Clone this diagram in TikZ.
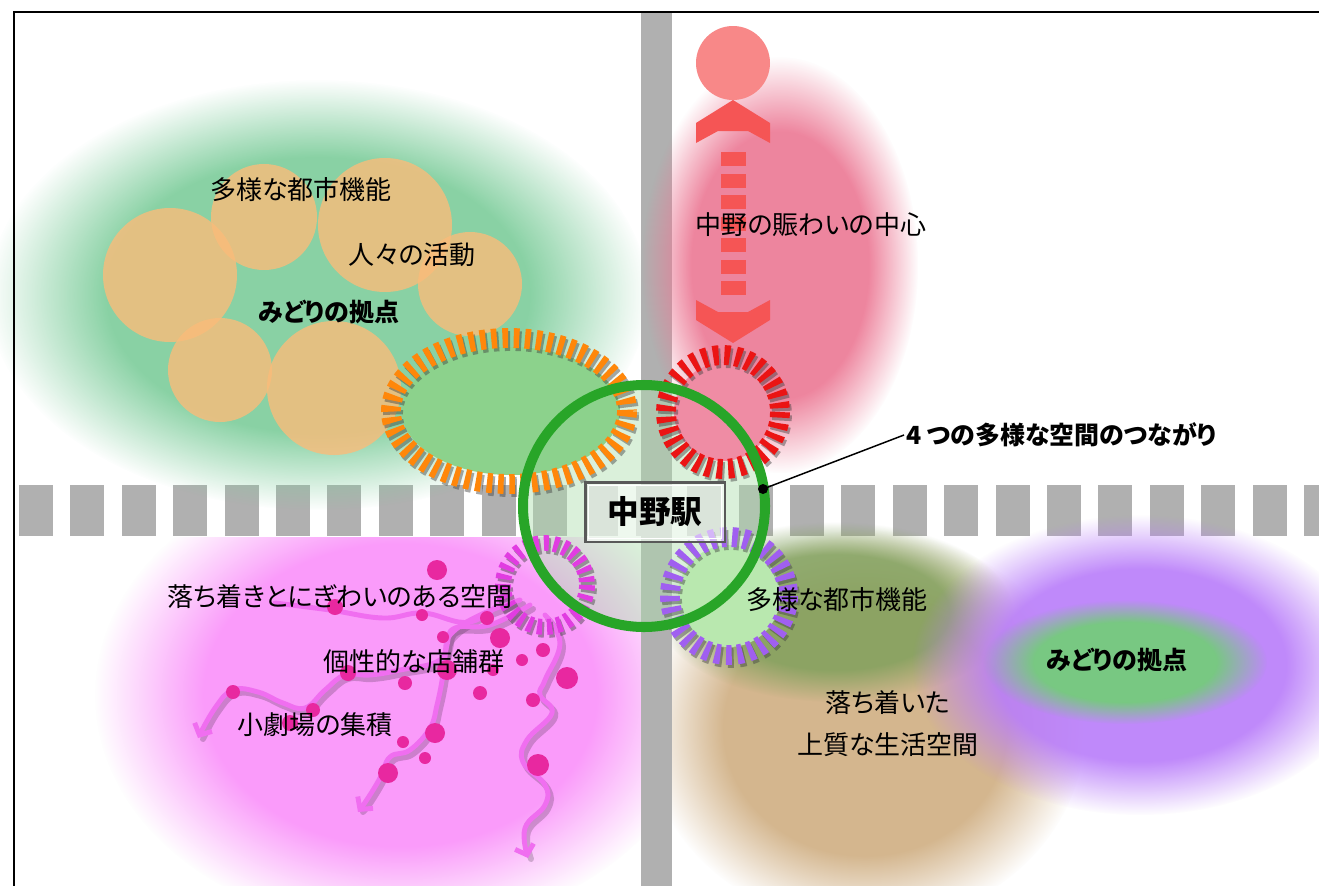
\documentclass[tikz,border=0pt]{standalone}
\usepackage{fontspec}
\setmainfont{Noto Sans CJK JP}[RawFeature=+palt]
\usepackage{tikz}
\usetikzlibrary{arrows.meta, fadings}

\definecolor{railgray}{RGB}{176,176,176}
\definecolor{leafgreen}{RGB}{125,205,155}
\definecolor{innergreen}{RGB}{140,210,140}
\definecolor{palegreen}{RGB}{185,232,175}
\definecolor{apricot}{RGB}{250,188,122}
\definecolor{rosepink}{RGB}{236,120,148}
\definecolor{lilac}{RGB}{250,155,250}
\definecolor{sand}{RGB}{212,182,142}
\definecolor{olivegreen}{RGB}{128,160,92}
\definecolor{purpleblob}{RGB}{185,125,250}
\definecolor{parkgreen}{RGB}{120,200,130}
\definecolor{ringorange}{RGB}{255,135,10}
\definecolor{ringred}{RGB}{235,20,20}
\definecolor{ringmagenta}{RGB}{225,60,225}
\definecolor{ringpurple}{RGB}{160,95,240}
\definecolor{ringgreen}{RGB}{40,165,40}
\definecolor{arrowred}{RGB}{245,85,85}
\definecolor{dotpink}{RGB}{232,40,160}
\definecolor{wavepink}{RGB}{240,110,240}

% soft-edged areas: opaque core, fading out towards the rim
\pgfdeclareradialshading{blobshade}{\pgfpointorigin}{color(0bp)=(white); color(16bp)=(white); color(25bp)=(black); color(50bp)=(black)}
\pgfdeclarefading{blobfade}{\pgfuseshading{blobshade}}

\tikzset{
  blob/.style={fill=#1, path fading=blobfade, fit fading=true},
  tickring/.style={draw=#1, line width=11.3pt, dash pattern=on 3.2pt off 3.2pt},
  tickshadow/.style={tickring=black!75, draw opacity=0.45},
  wave/.style={draw=wavepink, line width=2.8pt, line cap=round,
    -{Straight Barb[length=5pt, width=11pt]}},
  waveshadow/.style={draw=black, draw opacity=0.18, line width=3.4pt, line cap=round},
  lbl/.style={font=\fontsize{14.8}{18}\selectfont, inner sep=1pt},
  boldlbl/.style={font=\fontsize{14.2}{17}\selectfont\bfseries, inner sep=1pt},
  stationbox/.style={draw=black!65, line width=1.7pt, fill=white, fill opacity=0.55,
    text opacity=1, minimum width=2.8cm, minimum height=1.2cm,
    font=\fontsize{18}{22}\selectfont\bfseries},
  dotmark/.style={circle, fill=black, inner sep=0pt, minimum size=0.2cm},
}

\begin{document}
\begin{tikzpicture}[x=0.02cm, y=-0.02cm]
  \useasboundingbox (0,0) rectangle (1319,886);
  \clip (0,0) rectangle (1319,886);
  \fill[white] (0,0) rectangle (1319,886);

  % railway (east-west)
  \foreach \i in {0,...,25}
    \fill[railgray] ({19+51.4*\i},485) rectangle ++(34,51);

  % soft background areas
  \fill[blob=leafgreen, fill opacity=0.9] (318,295) ellipse [x radius=330, y radius=215];
  \begin{scope}
    \clip (0,537) rectangle (641,886);
    \fill[blob=lilac] (400,695) ellipse [x radius=305, y radius=235];
  \end{scope}
  \fill[blob=sand] (865,728) ellipse [x radius=220, y radius=198];
  \fill[blob=olivegreen, fill opacity=0.85] (835,612) ellipse [x radius=178, y radius=90];
  \fill[blob=purpleblob, fill opacity=0.9] (1140,665) ellipse [x radius=228, y radius=150];
  \fill[blob=parkgreen] (1125,662) ellipse [x radius=142, y radius=62];

  % road (north-south)
  \fill[railgray] (641,12) rectangle (672,886);
  \fill[blob=rosepink, fill opacity=0.9] (780,265) ellipse [x radius=138, y radius=208];

  % urban functions around the green
  \foreach \cx/\cy/\r in {170/275/67, 264/217/53, 385/225/67, 470/284/52, 220/370/52, 334/388/67}
    \fill[apricot, fill opacity=0.8] (\cx,\cy) circle [radius=\r];

  % red arrow towards the north
  \fill[arrowred!70!white] (733,63) circle [radius=37];
  \fill[arrowred] (733,100) -- (770,123) -- (770,143) -- (748,131) -- (718,131) -- (696,143) -- (696,123) -- cycle;
  \foreach \i in {0,...,6}
    \fill[arrowred] (721,{152+21.5*\i}) rectangle ++(25,14);
  \fill[arrowred] (733,343) -- (770,320) -- (770,300) -- (748,312) -- (718,312) -- (696,300) -- (696,320) -- cycle;

  % winding streets with small theatres and shops
  \begin{scope}[shift={(3,4)}]
    \draw[waveshadow] plot[smooth, tension=0.7] coordinates {(520,600) (480,615) (450,635) (440,660) (400,670) (370,675) (345,675) (325,690) (305,708) (283,703) (258,692) (233,690) (215,708) (200,735)};
    \draw[waveshadow] plot[smooth, tension=0.7] coordinates {(530,605) (490,625) (455,628) (447,645) (443,675) (437,705) (430,728) (410,750) (390,757) (380,778) (368,798) (360,808)};
    \draw[waveshadow] plot[smooth, tension=0.7] coordinates {(545,615) (560,643) (545,680) (540,695) (552,713) (527,740) (523,762) (545,785) (545,805) (525,828) (528,855)};
  \end{scope}
  \draw[wave] plot[smooth, tension=0.7] coordinates {(520,600) (480,615) (450,635) (440,660) (400,670) (370,675) (345,675) (325,690) (305,708) (283,703) (258,692) (233,690) (215,708) (198,738)};
  \draw[wave] plot[smooth, tension=0.7] coordinates {(530,605) (490,625) (455,628) (447,645) (443,675) (437,705) (430,728) (410,750) (390,757) (380,778) (368,798) (358,812)};
  \draw[wave] plot[smooth, tension=0.7] coordinates {(545,615) (560,643) (545,680) (540,695) (552,713) (527,740) (523,762) (545,785) (545,805) (525,828) (528,858)};
  \draw[wave, -] plot[smooth, tension=0.7] coordinates {(505,598) (470,622) (423,613) (383,618) (330,610) (275,603)};
  \foreach \x/\y/\r in {437/570/10, 335/607/8, 422/615/6, 487/618/7, 443/637/6, 500/638/10,
      543/650/7, 522/660/6, 567/678/11, 447/670/10, 348/673/8, 493/670/6, 405/683/7,
      480/693/7, 533/700/7, 233/692/7, 313/710/7, 435/733/10, 403/742/6, 425/758/6,
      388/773/10, 538/765/11, 290/723/8}
    \fill[dotpink] (\x,\y) circle [radius=\r];

  % tint of the station area
  \fill[innergreen!70!white, fill opacity=0.45] (644,506) circle [radius=121];

  % four rings around the station
  \fill[innergreen] (511,411) ellipse [x radius=109, y radius=64];
  \draw[tickshadow, shift={(2,3)}] (509,411) ellipse [x radius=118, y radius=73];
  \draw[tickring=ringorange] (509,411) ellipse [x radius=118, y radius=73];

  \fill[rosepink!85!white] (723,412) circle [radius=49];
  \draw[tickshadow, shift={(2,3)}] (723,412) circle [radius=57];
  \draw[tickring=ringred] (723,412) circle [radius=57];

  \draw[tickshadow, line width=9pt, dash pattern=on 2.8pt off 2.8pt, shift={(2,3)}] (545,585) circle [radius=42];
  \draw[tickring=ringmagenta, line width=9pt, dash pattern=on 2.8pt off 2.8pt] (545,585) circle [radius=42];

  \fill[palegreen] (729,596) circle [radius=51];
  \draw[tickshadow, shift={(2,3)}] (729,596) circle [radius=59];
  \draw[tickring=ringpurple] (729,596) circle [radius=59];

  % station
  \draw[ringgreen, line width=5.7pt] (644,506) circle [radius=121];
  \node[stationbox] (eki) at (655,512) {中野駅};
  \draw[white, line width=0.8pt] ([shift={(5,-5)}]eki.south west) rectangle ([shift={(-5,5)}]eki.north east);

  % labels
  \node[lbl] (nwkinou) at (301,190) {多様な都市機能};
  \node[lbl] (nwkatsudo) at (412,255) {人々の活動};
  \node[boldlbl] (nwmidori) at (329,312) {みどりの拠点};
  \node[lbl] (nechushin) at (811,225) {中野の賑わいの中心};
  \node[lbl] (swkukan) at (340,597) {落ち着きとにぎわいのある空間};
  \node[lbl] (swtenpo) at (414,662) {個性的な店舗群};
  \node[lbl] (swgekijo) at (315,725) {小劇場の集積};
  \node[lbl] (sekinou) at (837,600) {多様な都市機能};
  \node[boldlbl] (semidori) at (1117,660) {みどりの拠点};
  \node[lbl] (seochitsuki) at (888,703) {落ち着いた};
  \node[lbl] (sejoshitsu) at (888,745) {上質な生活空間};

  % leader to the ring
  \node[boldlbl, anchor=west] (tsunagari) at (904,435) {4 つの多様な空間のつながり};
  \node[dotmark] (ringpt) at (763,489) {};
  \draw[line width=0.85pt] (ringpt.center) -- (tsunagari.west);

  % frame
  \draw[line width=1.2pt] (14,900) -- (14,12) -- (1330,12);
\end{tikzpicture}
\end{document}
